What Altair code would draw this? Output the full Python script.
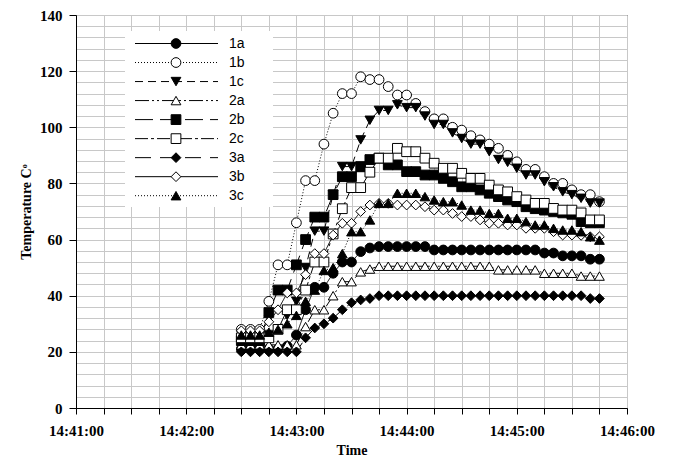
import altair as alt
import pandas as pd

times = ["14:42:30", "14:42:35", "14:42:40", "14:42:45", "14:42:50", "14:42:55",
         "14:43:00", "14:43:05", "14:43:10", "14:43:15", "14:43:20", "14:43:25",
         "14:43:30", "14:43:35", "14:43:40", "14:43:45", "14:43:50", "14:43:55",
         "14:44:00", "14:44:05", "14:44:10", "14:44:15", "14:44:20", "14:44:25",
         "14:44:30", "14:44:35", "14:44:40", "14:44:45", "14:44:50", "14:44:55",
         "14:45:00", "14:45:05", "14:45:10", "14:45:15", "14:45:20", "14:45:25",
         "14:45:30", "14:45:35", "14:45:40", "14:45:45"]

series_names = ["1a", "1b", "1c", "2a", "2b", "2c", "3a", "3b", "3c"]

s1a = [21, 21, 21, 21, 21, 22, 26, 35, 43, 43, 48, 52, 52, 55.7, 57,
       57.5, 57.5, 57.5, 57.5, 57.5, 57.5,
       56.3, 56.3, 56.3, 56.3, 56.3, 56.3, 56.3, 56.3, 56.3, 56.3, 56.3, 56.3,
       55.2, 55.2, 54.2, 54.2, 54.2, 53, 53]
s1b = [28, 28, 28, 38, 51, 51, 66, 81, 81, 94, 105, 112, 112, 118, 117, 117,
       114.5, 111.5, 111.5, 108.5, 105.6, 103, 103, 100, 99, 97, 95.5, 94,
       92.5, 90, 87.7, 85, 85, 82.4, 80, 80, 77.7, 76, 76, 73.5]
s1c = [24, 24, 24, 26, 28, 33, 38, 50, 63, 63, 76, 86, 86, 95.5, 102.5, 106,
       106, 108, 107, 107, 104, 101, 101, 98, 96, 94, 94, 91.3, 88.5, 87.5,
       85.4, 83, 83, 80.6, 78.8, 77, 76, 74.7, 73, 73]
s2a = [22.5, 22.5, 22.5, 22.5, 22.5, 22.5, 22.5, 29, 35, 35, 40, 45, 45, 48.5,
       49.5, 50.5, 50.5, 50.5, 50.5, 50.5, 50.5, 50.5, 50.5, 50.5, 50.5, 50.5,
       50.5, 50.5, 49.2, 49.2, 49.2, 49.2, 49.2, 48, 48, 48, 48, 47, 47, 47]
s2b = [24, 24, 24, 34, 42, 42, 51, 60, 68, 68, 76, 82.4, 82.4, 86, 88.5, 89,
       86.6, 86.6, 84.2, 84.2, 83, 83, 81.8, 80.6, 78.8, 78.8, 77.7, 76.5,
       75.3, 74.1, 73.5, 71.7, 71, 70.5, 70, 69.5, 69, 66.4, 66, 66]
s2c = [25, 25, 25, 25, 28, 35, 35, 42, 52, 52, 62, 71, 78.5, 78.5, 84, 89, 89,
       92.5, 91.3, 91.3, 89, 87.2, 85.4, 85.4, 83.6, 81.8, 81.8, 79.4, 77.7,
       77, 75.3, 74.1, 72.9, 72.9, 71.1, 70.5, 70.5, 69.5, 67, 67]
s3a = [20, 20, 20, 20, 20, 20, 20, 25, 28.5, 30, 32, 35, 37.5, 38.5, 39,
       40, 40, 40, 40, 40, 40, 40, 40, 40, 40, 40, 40, 40, 40, 40, 40, 40, 40,
       40, 40, 40, 40, 40, 39, 39]
s3b = [27.5, 27.5, 27.5, 30.7, 35, 41, 41, 47.5, 55, 55, 61.6, 65.8, 65.8, 70,
       72.3, 72.9, 72.9, 72.3, 72.3, 72.3, 71.7, 70.5, 70.5, 69.3, 68.2, 68.2,
       67, 65.8, 65.8, 65.2, 65.2, 64, 64, 64, 62.8, 61.6, 61.6, 61.5, 61, 61]
s3c = [26, 26, 26, 27, 28, 30, 33, 38, 42, 49, 50, 55, 62.8, 62.8, 67, 72.9,
       72.9, 76.5, 76.5, 76.5, 75.3, 74.1, 73.5, 73.5, 72.3, 70.5, 70.5, 69.3,
       69.3, 67.6, 67.6, 66.4, 65.2, 65.2, 64, 63.4, 63.4, 62.8, 61, 59.8]

all_series = [s1a, s1b, s1c, s2a, s2b, s2c, s3a, s3b, s3c]

rows = []
for name, vals in zip(series_names, all_series):
    for t, v in zip(times, vals):
        h, m, s = (int(p) for p in t.split(":"))
        sec = (h * 3600 + m * 60 + s) - (14 * 3600 + 41 * 60)
        rows.append({"series": name, "t": sec, "temp": v})
df = pd.DataFrame(rows)

legend_df = pd.DataFrame({"series": series_names, "row": list(range(len(series_names)))})

dash_range = [[1, 0], [1, 2], [8, 5], [14, 3, 2, 3, 2, 3], [18, 7],
              [13, 3, 3, 3], [16, 9], [1, 0], [1, 2]]
shape_range = ["circle", "circle", "triangle-down", "triangle-up", "square",
               "square", "diamond", "diamond", "triangle-up"]
fill_range = ["black", "white", "black", "white", "black", "white",
              "black", "white", "black"]
size_range = [95, 95, 90, 90, 70, 70, 85, 85, 90]

FONT = "Liberation Serif"

dash_enc = alt.StrokeDash("series:N", scale=alt.Scale(domain=series_names, range=dash_range), legend=None)
shape_enc = alt.Shape("series:N", scale=alt.Scale(domain=series_names, range=shape_range), legend=None)
fill_enc = alt.Fill("series:N", scale=alt.Scale(domain=series_names, range=fill_range), legend=None)
size_enc = alt.Size("series:N", scale=alt.Scale(domain=series_names, range=size_range), legend=None)

x_axis = alt.Axis(
    values=list(range(0, 301, 15)),
    labelExpr="datum.value % 60 === 0 ? '14:' + (41 + datum.value / 60) + ':00' : ''",
    title="Time",
    grid=True,
    gridColor="#c8c8c8",
    domainColor="black",
    tickColor="black",
    tickSize=6,
    labelPadding=9,
    labelOverlap=False,
    labelFlush=False,
    labelFont=FONT, labelFontWeight="bold", labelFontSize=15, labelColor="black",
    titleFont=FONT, titleFontWeight="bold", titleFontSize=14, titleColor="black",
    titlePadding=5,
)
y_axis = alt.Axis(
    values=list(range(0, 141, 4)),
    labelExpr="datum.value % 20 === 0 ? datum.label : ''",
    title="Temperature C\u1d52",
    grid=True,
    gridColor="#c8c8c8",
    domainColor="black",
    tickColor="black",
    tickOpacity={"condition": {"test": "datum.value % 20 === 0", "value": 1}, "value": 0},
    tickSize=7,
    labelPadding=7,
    labelOverlap=False,
    labelFont=FONT, labelFontWeight="bold", labelFontSize=15, labelColor="black",
    titleFont=FONT, titleFontWeight="bold", titleFontSize=14, titleColor="black",
    titlePadding=6,
)
x_enc = alt.X("t:Q", scale=alt.Scale(domain=[0, 300], nice=False), axis=x_axis)
y_enc = alt.Y("temp:Q", scale=alt.Scale(domain=[0, 140], nice=False), axis=y_axis)

base = alt.Chart(df)
lines = base.mark_line(color="black", strokeWidth=1).encode(
    x=x_enc, y=y_enc, strokeDash=dash_enc, detail="series:N"
)
points = base.mark_point(filled=True, stroke="black", strokeWidth=1, opacity=1).encode(
    x=x_enc, y=y_enc, shape=shape_enc, fill=fill_enc, size=size_enc
)
main = alt.layer(lines, points)

legend_bg = alt.Chart(legend_df).mark_rect(fill="white").encode(
    x=alt.value(49), x2=alt.value(197), y=alt.value(16), y2=alt.value(192)
)
leg_y = alt.Y("row:Q", scale=alt.Scale(domain=[0, 8], range=[28.5, 180.7]), axis=None)
legend_lines = alt.Chart(legend_df).mark_rule(color="black", strokeWidth=1).encode(
    x=alt.value(59), x2=alt.value(142), y=leg_y, strokeDash=dash_enc
)
legend_points = alt.Chart(legend_df).mark_point(filled=True, stroke="black", strokeWidth=1, opacity=1).encode(
    x=alt.value(100), y=leg_y, shape=shape_enc, fill=fill_enc, size=size_enc
)
legend_text = alt.Chart(legend_df).mark_text(
    align="left", baseline="middle", font="Liberation Sans", fontSize=14, color="black"
).encode(x=alt.value(153), y=leg_y, text="series:N")
legend = alt.layer(legend_bg, legend_lines, legend_points, legend_text)

chart = alt.layer(main, legend).resolve_scale(y="independent").properties(
    width=551, height=393,
    autosize=alt.AutoSizeParams(type="none"),
    padding={"left": 68, "top": 7, "right": 40, "bottom": 56},
).configure_view(stroke="black", strokeWidth=1)

chart.save("out.html", embed_options={"renderer": "svg", "actions": False})
